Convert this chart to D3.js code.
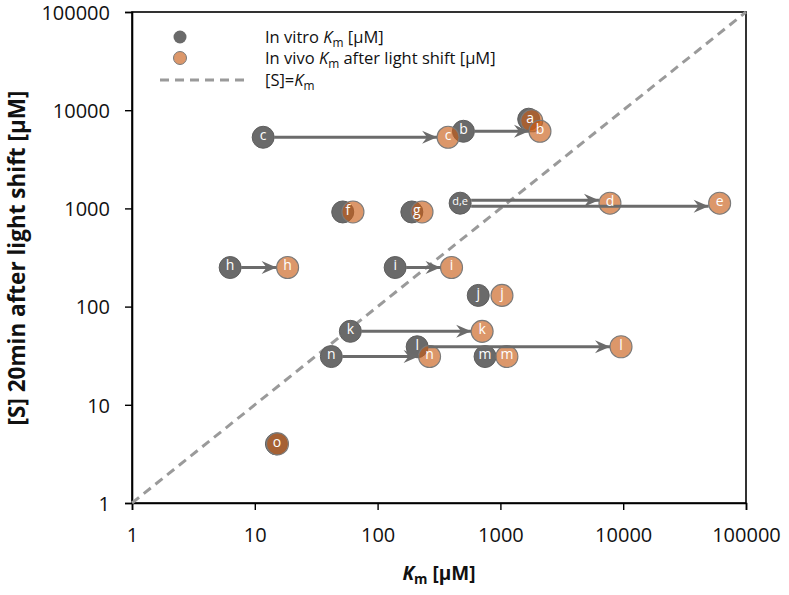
<!DOCTYPE html>
<html><head><meta charset="utf-8">
<script src="https://cdn.jsdelivr.net/npm/d3@7"></script>
<style>
html,body{margin:0;padding:0;background:#fff;}
svg{display:block;font-family:"Open Sans","Liberation Sans",sans-serif;}
</style></head>
<body><svg id="c" width="789" height="595"></svg>
<script>
// ---- data ----
const vitroLabel = ["a","b","c","d,e","f","g","h","i","j","k","l","m","n","o"];
const vitroKm    = [1700, 500, 11.7, 470, 52, 190, 6.3, 139, 660, 60, 210, 750, 42, 15];
const vitroS     = [8100, 6100, 5300, 1130, 920, 920, 250, 250, 130, 56, 39, 31, 31, 4];
const vivoLabel  = ["a","b","c","d","e","f","g","h","i","j","k","l","m","n","o"];
const vivoKm     = [1800, 2100, 375, 7800, 61000, 63, 230, 18.5, 400, 1030, 710, 9600, 1130, 265, 15.3];
const vivoS      = [7800, 6100, 5300, 1130, 1130, 920, 920, 250, 250, 130, 56, 39, 31, 31, 4];
// arrows: [vitro index, vivo index]
const arrowFrom = [1, 2, 3, 3, 6, 7, 9, 10, 12];
const arrowTo   = [1, 2, 3, 4, 7, 8, 10, 11, 13];
const tickValues = [1, 10, 100, 1000, 10000, 100000];

const svg = d3.select("#c");
const x = d3.scaleLog().domain([1, 100000]).range([132, 746]);
const y = d3.scaleLog().domain([1, 100000]).range([503, 12]);
const R = 11;

// marker
svg.append("defs").append("marker")
  .attr("id","ah").attr("markerUnits","userSpaceOnUse")
  .attr("viewBox","-16 -8 18 16").attr("refX",0).attr("refY",0)
  .attr("markerWidth",18).attr("markerHeight",16).attr("orient","auto")
  .append("path").attr("d","M0,0 L-15,-6.5 L-10,0 L-15,6.5 Z").attr("fill","#6b6b6b");

// frame
svg.append("rect").attr("x",132).attr("y",12).attr("width",746-132).attr("height",503-12)
  .attr("fill","none").attr("stroke","#000").attr("stroke-width",1.6);

// axes
const fmt = d => String(d);
const xa = svg.append("g").attr("transform","translate(0,503)")
  .call(d3.axisBottom(x).tickValues(tickValues).tickFormat(fmt).tickSize(7).tickPadding(12));
const ya = svg.append("g").attr("transform","translate(132,0)")
  .call(d3.axisLeft(y).tickValues(tickValues).tickFormat(fmt).tickSize(7).tickPadding(15));
[xa, ya].forEach(a => {
  a.select(".domain").attr("stroke","#000").attr("stroke-width",1.6);
  a.selectAll(".tick line").attr("stroke","#000").attr("stroke-width",1.4);
  a.selectAll(".tick text").attr("font-size",20).attr("fill","#111")
    .attr("font-family","'Open Sans',sans-serif");
});
xa.selectAll(".tick text").attr("dy","1.0em");
ya.selectAll(".tick text").attr("dy","0.36em");

// diagonal
svg.append("line").attr("x1",x(1)).attr("y1",y(1)).attr("x2",x(100000)).attr("y2",y(100000))
  .attr("stroke","#9a9a9a").attr("stroke-width",3).attr("stroke-dasharray","9,6");

// vitro circles
const vitro = vitroLabel.map((l,i)=>({l, km: vitroKm[i], s: vitroS[i]}));
const vivo = vivoLabel.map((l,i)=>({l, km: vivoKm[i], s: vivoS[i]}));
svg.append("g").selectAll("circle").data(vitro).join("circle")
  .attr("cx",d=>x(d.km)).attr("cy",d=>y(d.s)).attr("r",R)
  .attr("fill","#6a6a6a").attr("stroke","#5e5e5e").attr("stroke-width",1);
svg.append("g").selectAll("circle").data(vivo).join("circle")
  .attr("cx",d=>x(d.km)).attr("cy",d=>y(d.s)).attr("r",R)
  .attr("fill","rgba(200,92,22,0.64)").attr("stroke","#7a7a7a").attr("stroke-width",1.1);

// arrows
const offs = {3:-3, 4:3};
arrowFrom.forEach((fi,k) => {
  const ti = arrowTo[k];
  const x1 = x(vitroKm[fi]) + R, x2 = x(vivoKm[ti]) - R;
  const yy = y(vivoS[ti]) + (offs[ti]||0);
  svg.append("line").attr("x1",x1).attr("y1",yy).attr("x2",x2).attr("y2",yy)
    .attr("stroke","#6b6b6b").attr("stroke-width",3).attr("marker-end","url(#ah)");
});

// labels
const lab = svg.append("g").attr("fill","#fff").attr("font-size",14).attr("text-anchor","middle")
  .attr("font-family","'Open Sans',sans-serif");
vitro.forEach(d => {
  const v = vivo.find(e => e.l === d.l);
  if (v && Math.abs(x(v.km) - x(d.km)) < 14) {
    lab.append("text").attr("x",(x(v.km)+x(d.km))/2).attr("y",(y(v.s)+y(d.s))/2 - 2).attr("dy","0.35em").text(d.l);
  } else {
    lab.append("text").attr("x",x(d.km)).attr("y",y(d.s)-2).attr("dy","0.35em")
      .attr("font-size", d.l.length>1?11:14).text(d.l);
  }
});
vivo.forEach(d => {
  const v = vitro.find(e => e.l === d.l);
  if (v && Math.abs(x(v.km) - x(d.km)) < 14) return;
  lab.append("text").attr("x",x(d.km)).attr("y",y(d.s)-2).attr("dy","0.35em").text(d.l);
});

// legend
const lg = svg.append("g").attr("font-size",16.5).attr("fill","#111");
lg.append("circle").attr("cx",180).attr("cy",37).attr("r",6.5).attr("fill","#6a6a6a");
lg.append("circle").attr("cx",180).attr("cy",58).attr("r",6.5).attr("fill","rgba(200,92,22,0.64)").attr("stroke","#7a7a7a");
lg.append("line").attr("x1",160).attr("x2",245).attr("y1",80).attr("y2",80)
  .attr("stroke","#9a9a9a").attr("stroke-width",3).attr("stroke-dasharray","9,6");
function km(t){ t.append("tspan").attr("font-style","italic").text("K");
  t.append("tspan").attr("font-size","0.72em").attr("dy","0.3em").text("m"); }
let t1 = lg.append("text").attr("x",265).attr("y",43);
t1.append("tspan").text("In vitro "); km(t1); t1.append("tspan").attr("dy","-0.22em").text(" [µM]");
let t2 = lg.append("text").attr("x",265).attr("y",64);
t2.append("tspan").text("In vivo "); km(t2); t2.append("tspan").attr("dy","-0.22em").text(" after light shift [µM]");
let t3 = lg.append("text").attr("x",265).attr("y",86);
t3.append("tspan").text("[S]="); km(t3);

// axis titles
const xt = svg.append("text").attr("x",439).attr("y",580).attr("text-anchor","middle")
  .attr("font-size",19).attr("font-weight","bold").attr("fill","#111");
xt.append("tspan").attr("font-style","italic").text("K");
xt.append("tspan").attr("font-size","0.72em").attr("dy","0.3em").text("m");
xt.append("tspan").attr("dy","-0.22em").text(" [µM]");
svg.append("text").attr("transform","translate(25,258) rotate(-90)").attr("text-anchor","middle")
  .attr("font-size",22.5).attr("font-weight","bold").attr("fill","#111")
  .text("[S] 20min after light shift [µM]");
</script></body></html>
